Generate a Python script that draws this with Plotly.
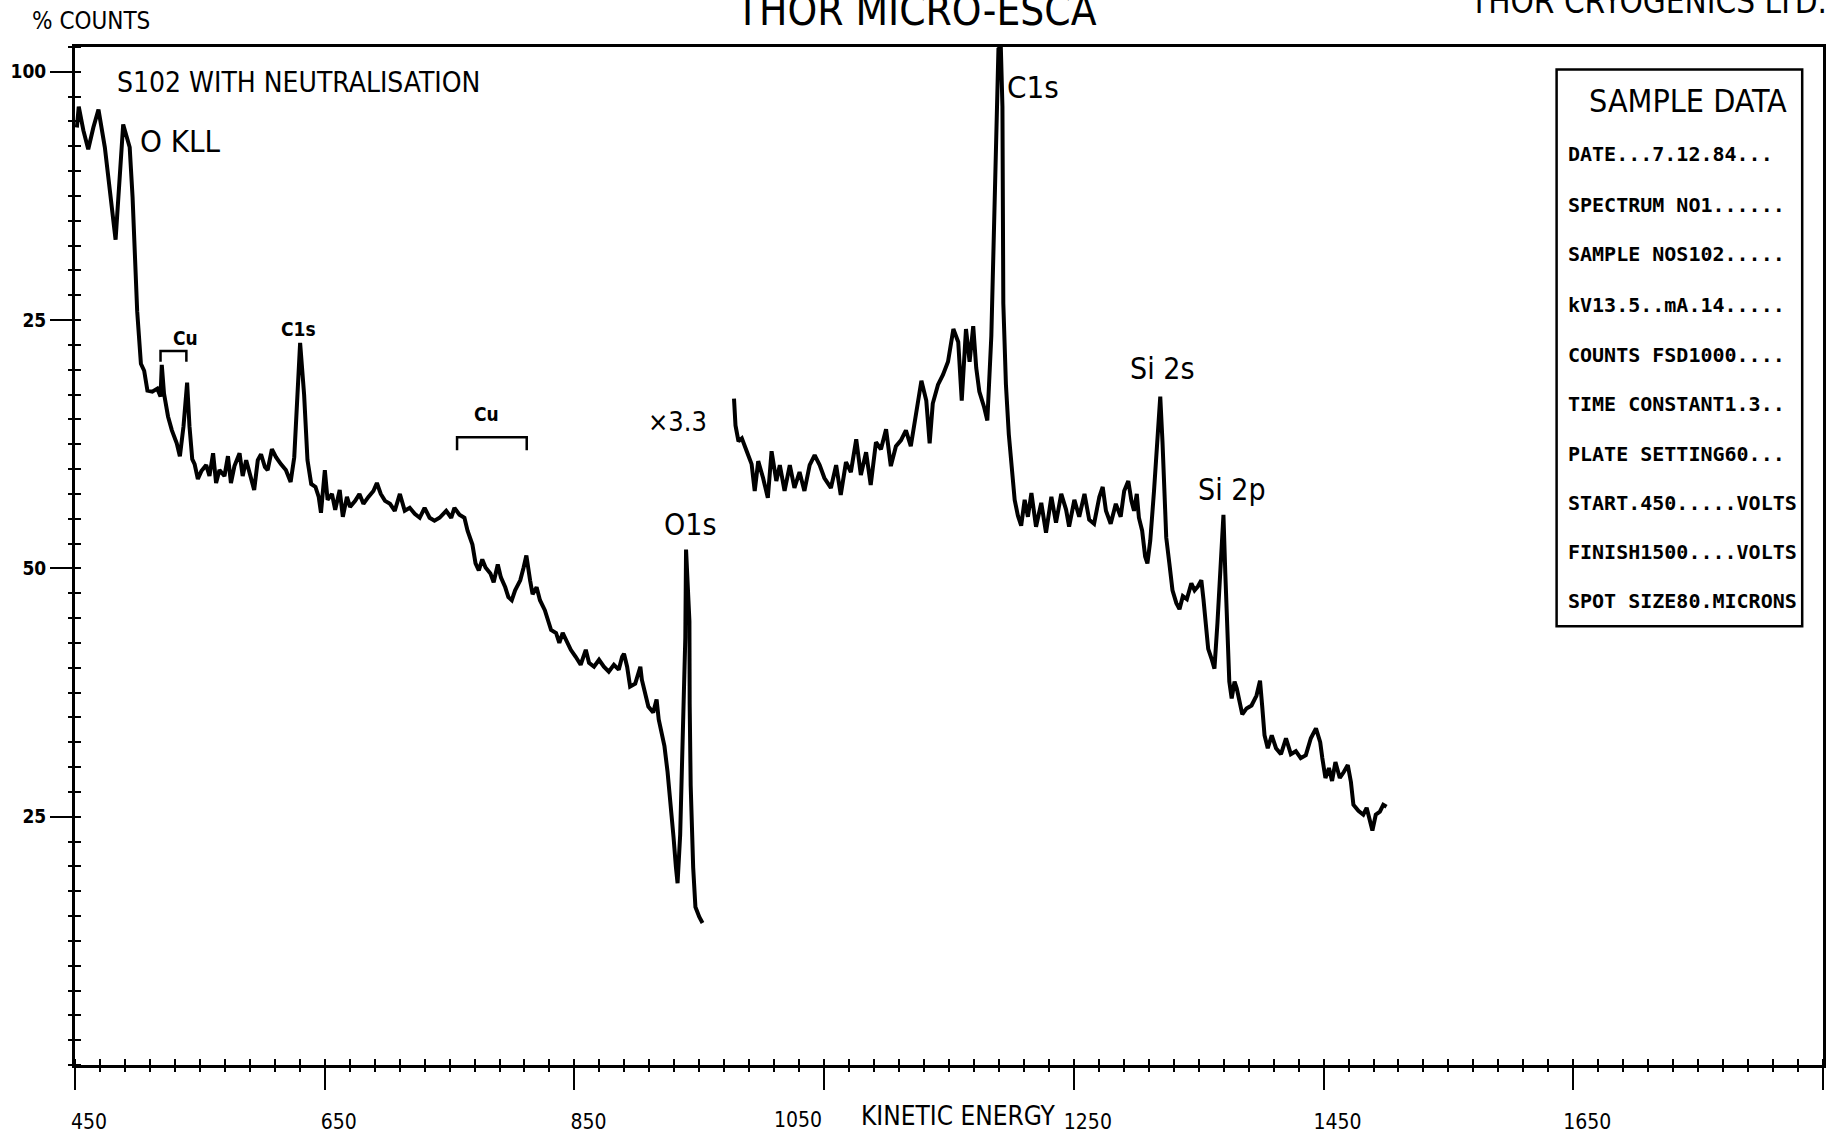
import plotly.graph_objects as go

# ---------------- data (kinetic energy in eV, % counts) ----------------
energy_main = [
    451.5, 453.0, 456.7, 460.6, 464.7, 468.8, 473.9, 477.6, 482.5, 488.6,
    493.8, 496.1, 498.3, 499.8, 502.8, 505.4, 508.0, 511.9, 515.9, 518.5,
    519.5, 521.3, 524.5, 527.6, 531.5, 534.0, 536.9, 539.8, 541.7, 543.9,
    545.8, 548.4, 551.2, 555.1, 557.7, 560.6, 563.0, 565.7, 569.7, 572.5,
    574.9, 577.7, 581.8, 584.3, 587.1, 589.6, 593.5, 596.4, 599.0, 602.1,
    604.3, 607.7, 611.0, 614.9, 618.9, 622.7, 625.6, 630.3, 633.5, 636.2,
    639.2, 642.6, 645.2, 647.0, 650.1, 652.3, 655.8, 658.4, 662.0, 664.5,
    667.8, 670.3, 674.4, 677.8, 681.0, 685.0, 689.0, 691.8, 694.9, 698.3,
    702.3, 706.1, 710.2, 714.1, 718.1, 722.1, 726.1, 730.0, 734.0, 737.9,
    742.0, 747.3, 751.3, 753.9, 757.9, 761.9,
    764.4, 768.3, 770.8, 773.4, 776.2, 778.8, 782.7, 785.3, 788.6, 791.1,
    794.6, 797.1, 799.8, 802.5, 806.6, 809.3, 811.5, 814.5, 816.5, 819.7,
    822.4, 826.3, 828.8, 831.3, 835.3, 837.9, 840.6, 843.3, 847.1, 851.0,
    855.0, 859.1, 861.7, 865.7, 869.7, 873.6, 877.5, 881.6, 885.5, 888.2,
    889.7, 892.2, 894.6, 898.7, 902.8, 904.0, 906.6, 909.2, 913.1, 915.8,
    917.5, 919.6, 922.1, 924.6, 927.0, 929.4, 931.3, 932.6, 934.7, 936.9,
    938.8, 939.4, 942.1, 942.3, 943.1, 945.1, 946.9, 950.0, 952.6,
]
counts_main = [
    94.4, 96.5, 94.1, 92.2, 94.4, 96.2, 92.4, 88.4, 83.1, 94.7,
    92.4, 87.4, 80.8, 75.9, 70.6, 69.9, 67.9, 67.8, 68.1, 67.3,
    70.5, 67.6, 65.3, 63.9, 62.6, 61.3, 64.3, 68.7, 64.3, 61.0,
    60.5, 59.0, 59.8, 60.4, 59.3, 61.6, 58.6, 59.9, 59.3, 61.3,
    58.6, 60.3, 61.6, 59.3, 60.9, 59.6, 57.9, 60.9, 61.5, 60.2,
    59.9, 62.0, 61.2, 60.5, 59.9, 58.7, 61.2, 72.7, 67.5, 60.9,
    58.5, 58.2, 57.2, 55.6, 59.9, 56.9, 57.5, 55.9, 57.9, 55.2,
    57.2, 56.2, 56.8, 57.5, 56.5, 57.2, 57.8, 58.6, 57.5, 56.8,
    56.5, 55.8, 57.5, 55.8, 56.1, 55.5, 55.1, 56.1, 55.1, 54.8,
    55.1, 55.8, 55.1, 56.1, 55.4, 55.1,
    53.8, 52.4, 50.5, 49.8, 50.9, 50.1, 49.5, 48.6, 50.4, 49.1,
    48.1, 47.1, 46.8, 47.8, 48.8, 50.1, 51.3, 48.8, 47.4, 48.1,
    46.8, 45.8, 44.8, 43.8, 43.5, 42.5, 43.5, 42.8, 41.8, 41.1,
    40.3, 41.8, 40.5, 40.1, 40.8, 40.1, 39.6, 40.3, 39.8, 41.1,
    41.4, 40.1, 38.1, 38.4, 40.1, 38.8, 37.4, 36.1, 35.5, 36.8,
    34.8, 33.5, 32.1, 29.5, 26.5, 22.9, 19.9, 18.3, 23.2, 33.1,
    43.0, 51.9, 44.7, 36.4, 28.2, 19.9, 15.9, 14.9, 14.3,
]

# x3.3 expanded section
energy_x33 = [
    977.8, 979.0, 981.4, 984.1, 988.0, 991.9, 994.4, 997.2, 1001.1, 1004.9,
    1007.9, 1011.7, 1014.5, 1018.3, 1022.5, 1026.2, 1030.3, 1034.2, 1038.4, 1042.4,
    1046.4, 1050.2, 1055.4, 1059.6, 1063.3, 1067.5, 1071.4, 1075.7, 1079.4, 1083.6,
    1087.3, 1091.5, 1095.5, 1099.6, 1103.4, 1107.5, 1111.5, 1115.5, 1119.4, 1123.7,
    1127.9, 1131.8, 1134.5, 1137.0, 1141.2, 1145.2, 1149.2, 1153.5, 1157.4, 1160.2,
    1163.6, 1166.5, 1169.4, 1171.8, 1174.3, 1178.2, 1180.7, 1183.9, 1187.0, 1189.6,
    1191.5, 1192.8, 1193.5, 1195.6, 1197.9, 1200.3, 1202.6, 1205.2, 1207.8, 1210.6,
    1213.2, 1216.0, 1219.7, 1223.9, 1227.7, 1232.0, 1235.7, 1239.9, 1243.8, 1246.2,
    1250.4, 1254.3, 1258.5, 1262.3, 1266.2, 1270.4, 1273.1, 1275.7, 1279.5, 1283.6,
    1287.5, 1290.3, 1293.6, 1296.1, 1298.2, 1300.4, 1302.1, 1304.7, 1307.1, 1308.9,
    1311.2, 1314.2, 1316.8, 1319.2, 1321.0, 1322.2, 1324.0, 1326.5, 1329.0, 1332.1,
    1334.6, 1337.3, 1340.5, 1344.1, 1346.7, 1349.4, 1352.1, 1353.8, 1355.8, 1357.6,
    1360.3, 1362.6, 1365.0, 1367.3, 1369.8, 1371.3, 1372.9, 1374.5, 1376.4, 1378.7,
    1380.5, 1382.3, 1384.9, 1388.3, 1392.3, 1396.3, 1399.1, 1400.8, 1402.7, 1405.3,
    1408.5, 1411.9, 1415.9, 1419.9, 1423.8, 1427.8, 1431.7, 1435.8, 1439.8, 1443.9,
    1447.3, 1449.0, 1451.5, 1454.3, 1456.8, 1459.5, 1463.0, 1466.2, 1469.4, 1471.9,
    1473.9, 1477.9, 1481.8, 1484.5, 1487.0, 1489.1, 1491.8, 1495.1, 1497.8, 1500.4,
]
counts_x33 = [
    67.1, 64.4, 62.8, 63.1, 61.8, 60.5, 57.8, 60.8, 59.1, 57.1,
    61.8, 58.8, 60.4, 57.8, 60.4, 58.1, 59.7, 57.8, 60.4, 61.4,
    60.4, 59.1, 58.1, 60.4, 57.4, 60.7, 59.7, 63.0, 59.4, 61.7,
    58.4, 62.7, 62.0, 64.0, 60.3, 62.3, 62.9, 63.9, 62.3, 65.6,
    68.9, 66.9, 62.6, 66.6, 68.5, 69.5, 70.8, 74.1, 72.8, 66.9,
    74.1, 70.8, 74.4, 70.2, 67.8, 66.2, 64.9, 73.4, 89.9, 102.3,
    102.5, 96.5, 76.7, 68.5, 63.5, 60.2, 56.9, 55.3, 54.3, 56.9,
    55.2, 57.6, 54.2, 56.6, 53.6, 57.2, 54.6, 57.5, 55.9, 54.2,
    56.9, 55.2, 57.5, 54.9, 54.5, 57.2, 58.2, 55.8, 54.5, 56.5,
    55.2, 57.8, 58.8, 56.8, 55.8, 57.5, 55.1, 53.8, 51.2, 50.5,
    52.8, 57.8, 62.7, 67.3, 62.7, 57.8, 53.1, 50.5, 47.8, 46.5,
    45.9, 47.2, 46.9, 48.5, 47.8, 48.2, 48.8, 46.9, 44.5, 41.9,
    40.9, 39.9, 44.5, 49.5, 55.4, 49.5, 44.5, 38.6, 36.9, 38.6,
    37.9, 36.6, 35.3, 35.9, 36.2, 37.2, 38.7, 36.2, 33.2, 31.9,
    33.2, 31.9, 31.3, 32.9, 31.3, 31.6, 30.9, 31.2, 32.9, 33.9,
    32.5, 30.9, 28.9, 29.9, 28.6, 30.5, 28.9, 29.5, 30.2, 28.5,
    26.2, 25.6, 25.2, 25.9, 24.6, 23.6, 25.2, 25.5, 26.2, 26.0,
]

x_tick_values = [450, 650, 850, 1050, 1250, 1450, 1650, 1850]
x_tick_labels = ["450", "650", "850", "1050", "1250", "1450", "1650", ""]
y_tick_values = [25, 50, 75, 100]
y_tick_labels = ["25", "50", "25", "100"]

peak_labels = ["O KLL", "Cu", "C1s", "Cu", "×3.3", "O1s", "C1s", "Si 2s", "Si 2p"]
peak_label_energy = [534.6, 538.2, 629.2, 779.7, 932.2, 942.2, 1216.9, 1320.8, 1377.0]
peak_label_counts = [93.0, 73.2, 74.1, 65.5, 64.8, 54.4, 98.5, 70.1, 57.9]

sample_data_lines = [
    "DATE...7.12.84...",
    "SPECTRUM NO1......",
    "SAMPLE NOS102.....",
    "kV13.5..mA.14.....",
    "COUNTS FSD1000....",
    "TIME CONSTANT1.3..",
    "PLATE SETTING60...",
    "START.450.....VOLTS",
    "FINISH1500....VOLTS",
    "SPOT SIZE80.MICRONS",
]

# ---------------- styling ----------------
NARROW = "Liberation Sans Narrow, Arial Narrow, DejaVu Sans Condensed, sans-serif"
MONO = "DejaVu Sans Mono, Liberation Mono, monospace"
INK = "black"
TICK_SIZE = 21

fig = go.Figure()
fig.add_trace(go.Scatter(x=energy_main, y=counts_main, mode="lines",
                         line=dict(color=INK, width=4), showlegend=False, hoverinfo="skip"))
fig.add_trace(go.Scatter(x=energy_x33, y=counts_x33, mode="lines",
                         line=dict(color=INK, width=4), showlegend=False, hoverinfo="skip"))
# helper trace so the overlay axes (the other half of the "+" ticks) are drawn
fig.add_trace(go.Scatter(x=[None], y=[None], xaxis="x2", yaxis="y2",
                         showlegend=False, hoverinfo="skip"))

# the plotter prints 1050 to the left of its tick (next to the axis title),
# so that one label is drawn separately, right-aligned on its tick
LEFT_ALIGNED_LABEL = "1050"
x_ticktext = ["" if t == LEFT_ALIGNED_LABEL else t for t in x_tick_labels]

X_RANGE = [450, 1850]
Y_RANGE = [0, 102.5]

fig.update_layout(
    width=1837, height=1145,
    margin=dict(l=68, r=11, t=47, b=63),
    paper_bgcolor="white", plot_bgcolor="white",
    xaxis=dict(range=X_RANGE, tickvals=x_tick_values, ticktext=x_ticktext,
               ticks="outside", ticklen=22, tickwidth=2, tickcolor=INK,
               showline=True, linewidth=3, linecolor=INK, mirror=True,
               showgrid=False, zeroline=False,
               ticklabelshift=14, ticklabelstandoff=14,
               tickfont=dict(family=NARROW, size=TICK_SIZE, color=INK),
               minor=dict(tick0=450, dtick=20, ticks="inside", ticklen=6,
                          tickwidth=2, tickcolor=INK, showgrid=False)),
    yaxis=dict(range=Y_RANGE, tickvals=y_tick_values, ticktext=y_tick_labels,
               ticks="outside", ticklen=22, tickwidth=2, tickcolor=INK,
               showline=True, linewidth=3, linecolor=INK, mirror=True,
               showgrid=False, zeroline=False,
               tickfont=dict(family=NARROW, size=19, color=INK, weight="bold"),
               minor=dict(tick0=0, dtick=2.5, ticks="inside", ticklen=6,
                          tickwidth=2, tickcolor=INK, showgrid=False)),
    xaxis2=dict(range=X_RANGE, overlaying="x", anchor="y2", side="bottom",
                tick0=450, dtick=20, ticks="outside", ticklen=6, tickwidth=2,
                tickcolor=INK, showticklabels=False, showline=False,
                showgrid=False, zeroline=False),
    yaxis2=dict(range=Y_RANGE, overlaying="y", anchor="x2", side="left",
                tick0=0, dtick=2.5, ticks="outside", ticklen=6, tickwidth=2,
                tickcolor=INK, showticklabels=False, showline=False,
                showgrid=False, zeroline=False),
)

annotations = []


def paper_text(text, x, y, size, family=NARROW, xanchor="center", weight="normal"):
    annotations.append(dict(text=text, x=x, y=y, xref="paper", yref="paper",
                            xanchor=xanchor, yanchor="middle", showarrow=False,
                            font=dict(family=family, size=size, color=INK, weight=weight)))


paper_text("% COUNTS", 0.009, 1.0256, 24)
paper_text("THOR MICRO-ESCA", 0.4812, 1.0362, 42)
paper_text("THOR CRYOGENICS LTD.", 0.8999, 1.0445, 33)
paper_text("S102 WITH NEUTRALISATION", 0.02275, 0.9652, 28, xanchor="left")
paper_text("KINETIC ENERGY", 0.5055, -0.0502, 26)

# the 1050 tick label, right-aligned at its tick
annotations.append(dict(text=LEFT_ALIGNED_LABEL, x=1050, y=-0.0545, xref="x", yref="paper",
                        xanchor="right", yanchor="middle", showarrow=False,
                        font=dict(family=NARROW, size=TICK_SIZE, color=INK)))

peak_sizes = [31, 19, 19, 19, 27, 30, 31, 30, 30]
peak_weights = ["normal", "bold", "bold", "bold", "normal", "normal", "normal", "normal", "normal"]
for text, ev, c, s, w in zip(peak_labels, peak_label_energy, peak_label_counts, peak_sizes, peak_weights):
    annotations.append(dict(text=text, x=ev, y=c, xref="x", yref="y",
                            xanchor="center", yanchor="middle", showarrow=False,
                            font=dict(family=NARROW, size=s, color=INK, weight=w)))

# sample data panel
paper_text("SAMPLE DATA", 0.9227, 0.9469, 32)
line_y = [0.8949, 0.8450, 0.7963, 0.7466, 0.6979, 0.6492, 0.6006, 0.5519, 0.5043, 0.4557]
for txt, yy in zip(sample_data_lines, line_y):
    paper_text(txt, 0.8530, yy, 20, family=MONO, xanchor="left", weight="bold")

fig.update_layout(annotations=annotations)

shapes = [
    dict(type="rect", xref="paper", yref="paper", x0=0.8476, x1=0.9881, y0=0.4309, y1=0.9778,
         line=dict(color=INK, width=2.5), fillcolor="rgba(0,0,0,0)"),
]
# Cu brackets
for a, b, top, bot in [(518.5, 539.2, 71.9, 70.8), (756.0, 811.8, 63.2, 61.9)]:
    shapes.append(dict(type="path", xref="x", yref="y",
                       path=f"M {a},{bot} L {a},{top} L {b},{top} L {b},{bot}",
                       line=dict(color=INK, width=2.5)))
fig.update_layout(shapes=shapes)

fig.write_html("out.html")
